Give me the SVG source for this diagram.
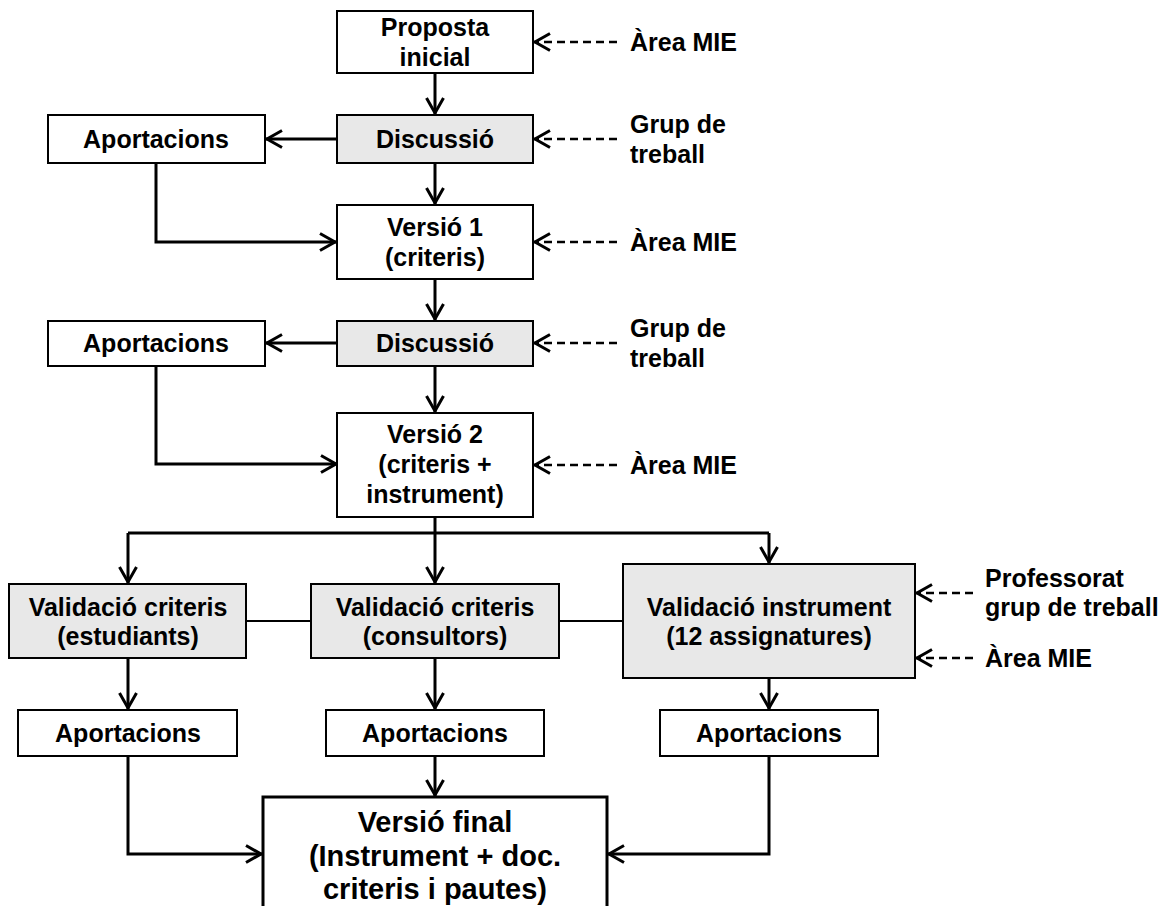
<svg xmlns="http://www.w3.org/2000/svg" width="1163" height="906" viewBox="0 0 1163 906">
<style>
.box{fill:#fff;stroke:#000;stroke-width:2}
.gray{fill:#e8e8e8;stroke:#000;stroke-width:2}
.final{fill:#fff;stroke:#000;stroke-width:3}
text{font-family:"Liberation Sans",Arial,sans-serif;font-weight:bold;font-size:25px;fill:#000}
.c{text-anchor:middle}
.big{font-size:29px}
.conn{fill:none;stroke:#000;stroke-width:3}
.thin{fill:none;stroke:#000;stroke-width:2}
.dash{fill:none;stroke:#000;stroke-width:2.5;stroke-dasharray:8 5}
</style>
<defs>
<marker id="arr" markerUnits="userSpaceOnUse" markerWidth="24" markerHeight="24" viewBox="-20 -12 24 24" refX="0" refY="0" orient="auto">
<path d="M-16,-8.5 L-1,0 L-16,8.5" fill="none" stroke="#000" stroke-width="3"/>
</marker>
</defs>

<g id="connectors">
<path class="conn" d="M435,73 L435,114" marker-end="url(#arr)"/>
<path class="conn" d="M337,139 L266,139" marker-end="url(#arr)"/>
<path class="conn" d="M435,163 L435,204" marker-end="url(#arr)"/>
<path class="conn" d="M156,163 L156,242 L336,242" marker-end="url(#arr)"/>
<path class="conn" d="M435,279 L435,320" marker-end="url(#arr)"/>
<path class="conn" d="M338,343 L266,343" marker-end="url(#arr)"/>
<path class="conn" d="M435,366 L435,412" marker-end="url(#arr)"/>
<path class="conn" d="M156,366 L156,464 L337,464" marker-end="url(#arr)"/>
<path class="conn" d="M435,517 L435,583" marker-end="url(#arr)"/>
<path class="conn" d="M128,533 L769,533"/>
<path class="conn" d="M128,533 L128,583" marker-end="url(#arr)"/>
<path class="conn" d="M769,533 L769,563" marker-end="url(#arr)"/>
<path class="thin" d="M246,621 L311,621"/>
<path class="thin" d="M559,621 L623,621"/>
<path class="conn" d="M128,658 L128,709" marker-end="url(#arr)"/>
<path class="conn" d="M435,658 L435,709" marker-end="url(#arr)"/>
<path class="conn" d="M769,678 L769,709" marker-end="url(#arr)"/>
<path class="conn" d="M128,756 L128,854 L262,854" marker-end="url(#arr)"/>
<path class="conn" d="M435,756 L435,796" marker-end="url(#arr)"/>
<path class="conn" d="M769,756 L769,854 L608,854" marker-end="url(#arr)"/>
<path class="dash" d="M617,42 L534,42" marker-end="url(#arr)"/>
<path class="dash" d="M617,139 L534,139" marker-end="url(#arr)"/>
<path class="dash" d="M617,242 L534,242" marker-end="url(#arr)"/>
<path class="dash" d="M617,343 L534,343" marker-end="url(#arr)"/>
<path class="dash" d="M617,465 L534,465" marker-end="url(#arr)"/>
<path class="dash" d="M973,593 L916,593" marker-end="url(#arr)"/>
<path class="dash" d="M973,658 L916,658" marker-end="url(#arr)"/>
</g>

<g id="proposta">
<rect class="box" x="337" y="11" width="196" height="62"/>
<text class="c" x="435" y="36">Proposta</text>
<text class="c" x="435" y="66">inicial</text>
</g>
<g id="label-area1"><text x="630" y="51">Àrea MIE</text></g>

<g id="discussio1">
<rect class="gray" x="337" y="115" width="196" height="48"/>
<text class="c" x="435" y="148">Discussió</text>
</g>
<g id="label-grup1"><text x="630" y="133">Grup de</text><text x="630" y="163">treball</text></g>

<g id="aportacions1">
<rect class="box" x="48" y="115" width="217" height="48"/>
<text class="c" x="156" y="148">Aportacions</text>
</g>

<g id="versio1">
<rect class="box" x="337" y="205" width="196" height="74"/>
<text class="c" x="435" y="236">Versió 1</text>
<text class="c" x="435" y="266">(criteris)</text>
</g>
<g id="label-area2"><text x="630" y="251">Àrea MIE</text></g>

<g id="discussio2">
<rect class="gray" x="337" y="321" width="196" height="45"/>
<text class="c" x="435" y="352">Discussió</text>
</g>
<g id="label-grup2"><text x="630" y="337">Grup de</text><text x="630" y="367">treball</text></g>

<g id="aportacions2">
<rect class="box" x="48" y="321" width="217" height="45"/>
<text class="c" x="156" y="352">Aportacions</text>
</g>

<g id="versio2">
<rect class="box" x="337" y="413" width="196" height="104"/>
<text class="c" x="435" y="443">Versió 2</text>
<text class="c" x="435" y="473">(criteris +</text>
<text class="c" x="435" y="503">instrument)</text>
</g>
<g id="label-area3"><text x="630" y="474">Àrea MIE</text></g>

<g id="valid-estudiants">
<rect class="gray" x="9" y="584" width="237" height="74"/>
<text class="c" x="128" y="616">Validació criteris</text>
<text class="c" x="128" y="645">(estudiants)</text>
</g>

<g id="valid-consultors">
<rect class="gray" x="311" y="584" width="248" height="74"/>
<text class="c" x="435" y="616">Validació criteris</text>
<text class="c" x="435" y="645">(consultors)</text>
</g>

<g id="valid-instrument">
<rect class="gray" x="623" y="564" width="292" height="114"/>
<text class="c" x="769" y="616">Validació instrument</text>
<text class="c" x="769" y="645">(12 assignatures)</text>
</g>
<g id="label-professorat"><text x="985" y="587">Professorat</text><text x="985" y="616">grup de treball</text></g>
<g id="label-area4"><text x="985" y="667">Àrea MIE</text></g>

<g id="aportacions3">
<rect class="box" x="18" y="710" width="219" height="46"/>
<text class="c" x="128" y="742">Aportacions</text>
</g>
<g id="aportacions4">
<rect class="box" x="326" y="710" width="218" height="46"/>
<text class="c" x="435" y="742">Aportacions</text>
</g>
<g id="aportacions5">
<rect class="box" x="660" y="710" width="218" height="46"/>
<text class="c" x="769" y="742">Aportacions</text>
</g>

<g id="versio-final">
<rect class="final" x="263" y="797" width="344" height="130"/>
<text class="c big" x="435" y="832">Versió final</text>
<text class="c big" x="435" y="866">(Instrument + doc.</text>
<text class="c big" x="435" y="899">criteris i pautes)</text>
</g>
</svg>
